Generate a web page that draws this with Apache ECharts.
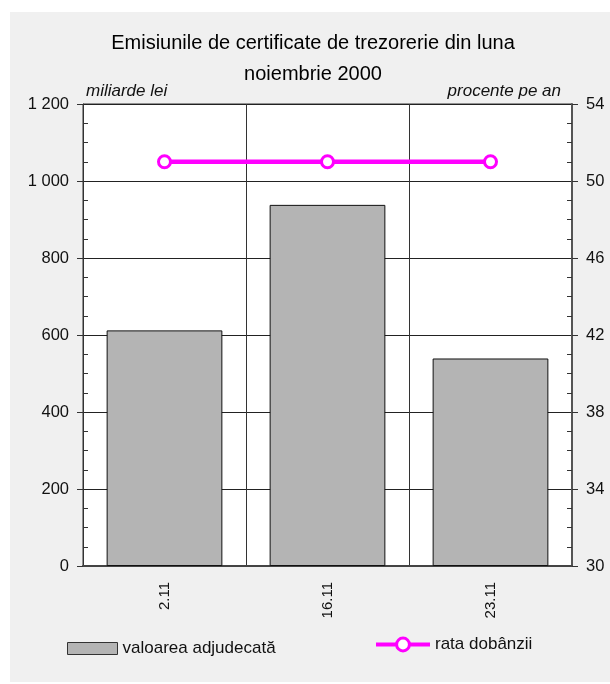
<!DOCTYPE html>
<html>
<head>
<meta charset="utf-8">
<script src="https://cdn.jsdelivr.net/npm/echarts@6/dist/echarts.min.js"></script>
<style>
html,body{margin:0;padding:0;background:#fff;}
#chart{width:610px;height:684px;}
</style>
</head>
<body>
<div id="chart"></div>
<script>
var categories = ['2.11', '16.11', '23.11'];
var valoareaAdjudecata = [612, 938, 539];
var rataDobanzii = [51, 51, 51];
var leftTicks = { min: 0, max: 1200, interval: 200 };
var rightTicks = { min: 30, max: 54, interval: 4 };
var titleLines = ['Emisiunile de certificate de trezorerie din luna', 'noiembrie 2000'];
var leftUnit = 'miliarde lei';
var rightUnit = 'procente pe an';
var seriesNames = ['valoarea adjudecată', 'rata dobânzii'];

var FONT = '"Liberation Sans", Arial, Helvetica, sans-serif';
var chart = echarts.init(document.getElementById('chart'), null, { renderer: 'canvas' });

function fmtThousands(v) {
  return String(v).replace(/\B(?=(\d{3})+(?!\d))/g, ' ');
}

var option = {
  backgroundColor: '#ffffff',
  animation: false,
  graphic: {
    elements: [
      { type: 'rect', z: -10, shape: { x: 10, y: 12, width: 600, height: 670 }, style: { fill: '#f0f0f0' }, silent: true },
      { type: 'text', x: 313, y: 43, style: { text: titleLines[0], font: '20px ' + FONT, fill: '#000', textAlign: 'center', textVerticalAlign: 'middle' } },
      { type: 'text', x: 313, y: 74, style: { text: titleLines[1], font: '20px ' + FONT, fill: '#000', textAlign: 'center', textVerticalAlign: 'middle' } },
      { type: 'text', x: 86, y: 91, style: { text: leftUnit, font: 'italic 17px ' + FONT, fill: '#111', textAlign: 'left', textVerticalAlign: 'middle' } },
      { type: 'text', x: 561, y: 91, style: { text: rightUnit, font: 'italic 17px ' + FONT, fill: '#111', textAlign: 'right', textVerticalAlign: 'middle' } }
    ]
  },
  grid: {
    left: 83, right: 38, top: 104, bottom: 118,
    show: true, backgroundColor: '#ffffff', borderColor: '#333', borderWidth: 1,
    containLabel: false
  },
  legend: [
    {
      data: [{ name: seriesNames[0], icon: 'rect' }], left: 67, top: 640, padding: 0,
      itemWidth: 50, itemHeight: 12,
      itemStyle: { borderColor: '#333', borderWidth: 1 },
      textStyle: { fontFamily: FONT, fontSize: 17, color: '#111' }
    },
    {
      data: [seriesNames[1]], left: 374, top: 636, padding: 0,
      itemWidth: 54, itemHeight: 16,
      lineStyle: { width: 4 },
      itemStyle: { borderWidth: 3 },
      textStyle: { fontFamily: FONT, fontSize: 17, color: '#111' }
    }
  ],
  xAxis: {
    type: 'category',
    data: categories,
    boundaryGap: true,
    axisLine: { show: true, lineStyle: { color: '#444', width: 2 } },
    axisTick: { show: false },
    splitLine: { show: true, lineStyle: { color: '#333', width: 1 } },
    axisLabel: { rotate: 90, margin: 16, fontFamily: FONT, fontSize: 15, color: '#111' }
  },
  yAxis: [
    {
      type: 'value', position: 'left',
      min: leftTicks.min, max: leftTicks.max, interval: leftTicks.interval,
      axisLine: { show: true, lineStyle: { color: '#333', width: 1 } },
      axisTick: { show: true, length: 6, lineStyle: { color: '#333' } },
      minorTick: { show: true, splitNumber: 4, length: -5, lineStyle: { color: '#333' } },
      splitLine: { show: true, lineStyle: { color: '#222', width: 1 } },
      axisLabel: { margin: 14, fontFamily: FONT, fontSize: 16.5, color: '#111', formatter: fmtThousands }
    },
    {
      type: 'value', position: 'right',
      min: rightTicks.min, max: rightTicks.max, interval: rightTicks.interval,
      axisLine: { show: true, lineStyle: { color: '#555', width: 2 } },
      axisTick: { show: true, length: 6, lineStyle: { color: '#333' } },
      minorTick: { show: true, splitNumber: 4, length: -5, lineStyle: { color: '#333' } },
      splitLine: { show: false },
      axisLabel: { margin: 14, fontFamily: FONT, fontSize: 16.5, color: '#111' }
    }
  ],
  series: [
    {
      name: seriesNames[0], type: 'bar', data: valoareaAdjudecata, barWidth: '71%',
      itemStyle: { color: '#b4b4b4', borderColor: '#111', borderWidth: 1 }
    },
    {
      name: seriesNames[1], type: 'line', yAxisIndex: 1, data: rataDobanzii,
      symbol: 'circle', symbolSize: 12,
      lineStyle: { color: '#ff00ff', width: 4.5 },
      itemStyle: { color: '#ffffff', borderColor: '#ff00ff', borderWidth: 3 }
    }
  ]
};
chart.setOption(option);
</script>
</body>
</html>
